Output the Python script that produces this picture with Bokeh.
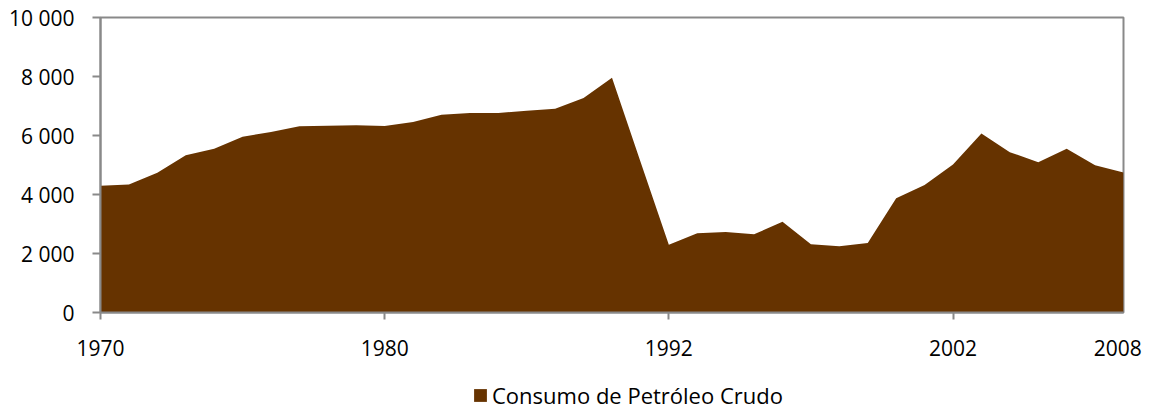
from bokeh.plotting import figure
from bokeh.layouts import column
from bokeh.models import Range1d, FixedTicker, Legend, LegendItem, LinearAxis
from bokeh.embed import file_html
from bokeh.resources import INLINE

# Data: consumption values, one per category position
values = [4300, 4340, 4735, 5330, 5550, 5960, 6115, 6310, 6330, 6350,
          6320, 6455, 6705, 6760, 6760, 6840, 6910, 7270, 7960, 5120,
          2300, 2685, 2730, 2650, 3080, 2310, 2245, 2355, 3875, 4325,
          5015, 6070, 5435, 5095, 5550, 4995, 4745]
positions = list(range(len(values)))
series_name = "Consumo de Petróleo Crudo"

x_tick_pos = [0, 10, 20, 30]
x_label_pos = [0, 10, 20, 30, 35.8]
x_tick_labels = ["1970", "1980", "1992", "2002", "2008"]
y_ticks = [0, 2000, 4000, 6000, 8000, 10000]
y_tick_labels = ["0", "2 000", "4 000", "6 000", "8 000", "10 000"]

FONT = "Open Sans"
GREY = "#898989"
FILL = "#663300"

W, H1, H2 = 1154, 370, 43
p = figure(width=W, height=H1, output_backend="svg", toolbar_location=None,
           x_range=Range1d(0, len(values) - 1), y_range=Range1d(0, 10000),
           x_axis_location=None,
           min_border_left=100, min_border_right=31, min_border_top=17, min_border_bottom=58)
p.grid.visible = False
p.outline_line_color = GREY
p.outline_line_width = 2
p.background_fill_color = "white"
p.border_fill_color = "white"

r = p.varea(x=positions, y1=[0] * len(values), y2=values, fill_color=FILL)

# y axis
ya = p.yaxis[0]
ya.axis_line_color = GREY
ya.axis_line_width = 2
ya.major_tick_line_color = GREY
ya.major_tick_line_width = 2
ya.major_tick_in = 0
ya.major_tick_out = 8
ya.minor_tick_line_color = None
ya.major_label_text_font = FONT
ya.major_label_text_font_size = "21px"
ya.major_label_text_color = "#000000"
ya.ticker = FixedTicker(ticks=y_ticks)
ya.major_label_overrides = dict(zip(y_ticks, y_tick_labels))
ya.major_label_standoff = 18

# x axis: tick marks only
xt = LinearAxis(ticker=FixedTicker(ticks=x_tick_pos), axis_line_color=GREY, axis_line_width=2,
                major_tick_line_color=GREY, major_tick_line_width=2, major_tick_in=0,
                major_tick_out=7, minor_tick_line_color=None, major_label_standoff=0,
                major_label_text_font_size="1px", major_label_text_alpha=0,
                major_label_overrides={t: "" for t in x_tick_pos})
p.add_layout(xt, "below")

# x axis: labels only
xl = LinearAxis(ticker=FixedTicker(ticks=x_label_pos), axis_line_color=None,
                major_tick_line_color=None, major_tick_in=0, major_tick_out=0,
                minor_tick_line_color=None, major_label_standoff=20,
                major_label_text_font=FONT, major_label_text_font_size="21px",
                major_label_text_color="#000000",
                major_label_overrides=dict(zip(x_label_pos, x_tick_labels)))
p.add_layout(xl, "below")

# legend strip underneath the chart (same series, drawn outside its visible range)
lg = figure(width=W, height=H2, output_backend="svg", toolbar_location=None,
            x_range=Range1d(0, 1), y_range=Range1d(-2, -1),
            min_border_left=0, min_border_right=0, min_border_top=0, min_border_bottom=0,
            x_axis_location=None, y_axis_location=None)
lg.grid.visible = False
lg.outline_line_color = None
lg.border_fill_color = "white"
lg.background_fill_color = "white"
lr = lg.varea(x=positions, y1=[0] * len(values), y2=values, fill_color=FILL)
legend = Legend(items=[LegendItem(label=series_name, renderers=[lr])],
                location=(372, 3), orientation="horizontal",
                glyph_width=16, glyph_height=16, label_standoff=4,
                label_text_font=FONT, label_text_font_size="22px",
                label_text_color="#000000", padding=0, margin=0, spacing=0,
                border_line_color=None, background_fill_alpha=0)
lg.add_layout(legend)

open("out.html", "w").write(file_html(column(p, lg, spacing=0), INLINE))
